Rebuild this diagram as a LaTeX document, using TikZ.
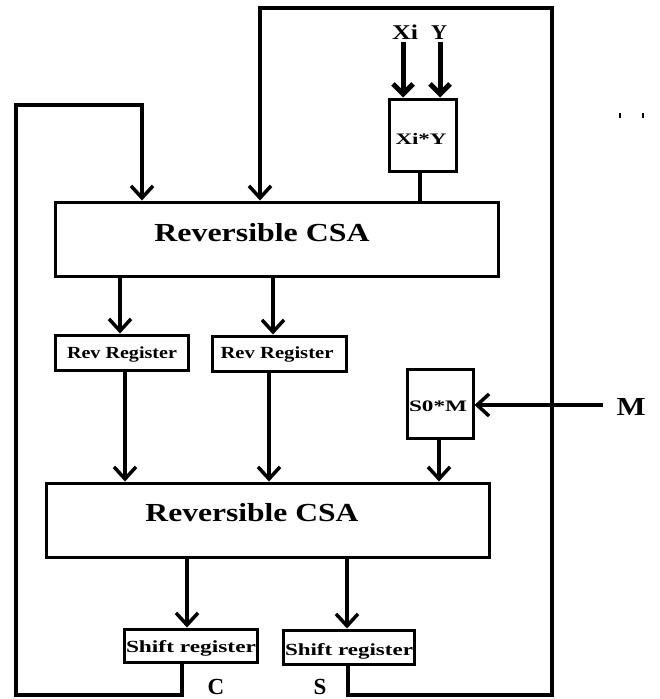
\documentclass[tikz,border=0pt]{standalone}
\usepackage{fontspec}
\setmainfont{Liberation Serif}
\usepackage{graphicx}
\usetikzlibrary{arrows.meta}
\newcommand{\fw}[2]{\resizebox{#1}{\height}{#2}}
\tikzset{
  box/.style={draw, line width=3pt, inner sep=0pt, rectangle},
  wire/.style={line width=3.5pt, line join=miter},
  arr/.style={wire, -{Straight Barb[length=12pt,width=22pt]}},
  thickarr/.style={line width=5pt, -{Straight Barb[length=10pt,width=20pt]}},
  txt/.style={inner sep=0pt},
  big/.style={font=\bfseries\fontsize{26}{26}\selectfont},
  lab/.style={font=\bfseries\fontsize{23}{23}\selectfont},
  mid/.style={font=\bfseries\fontsize{21}{21}\selectfont},
  small/.style={font=\bfseries\fontsize{17}{17}\selectfont},
  tiny/.style={font=\bfseries\fontsize{16}{16}\selectfont},
}
\begin{document}
\begin{tikzpicture}[x=1pt,y=-1pt]
\useasboundingbox (0,0) rectangle (659,699);
% boxes
\node[box, minimum width=443pt, minimum height=74pt] (csa1) at (276.5,239) {};
\node[box, minimum width=443pt, minimum height=74pt] (csa2) at (267.5,520) {};
\node[box, minimum width=133pt, minimum height=35pt] (rr1) at (121.5,352.5) {};
\node[box, minimum width=134pt, minimum height=35pt] (rr2) at (279,353.5) {};
\node[box, minimum width=67pt, minimum height=72pt] (xy) at (422.5,135) {};
\node[box, minimum width=66pt, minimum height=69pt] (s0m) at (440,403.5) {};
\node[box, minimum width=133pt, minimum height=33pt] (sh1) at (190.5,645.5) {};
\node[box, minimum width=131pt, minimum height=34pt] (sh2) at (348.5,647) {};
% texts
\node[txt, big, anchor=base] (t1) at (262,241) {\fw{215pt}{Reversible CSA}};
\node[txt, big, anchor=base] (t2) at (252,521) {\fw{213pt}{Reversible CSA}};
\node[txt, small, anchor=base] (trr1) at (122,358) {\fw{110pt}{Rev Register}};
\node[txt, small, anchor=base] (trr2) at (277,358) {\fw{113pt}{Rev Register}};
\node[txt, small, anchor=base] (tsh1) at (191,652) {\fw{130pt}{Shift register}};
\node[txt, small, anchor=base] (tsh2) at (349,655) {\fw{128pt}{Shift register}};
\node[txt, tiny, anchor=base] (txy) at (421,144) {\fw{51pt}{Xi*Y}};
\node[txt, tiny, anchor=base] (ts0m) at (438,411) {\fw{58pt}{S0*M}};
\node[txt, mid, anchor=base] (lxi) at (405,39) {\fw{26pt}{Xi}};
\node[txt, mid, anchor=base] (ly) at (439,39) {\fw{16pt}{Y}};
\node[txt, big, anchor=base] (lm) at (631,415) {\fw{29pt}{M}};
\node[txt, lab, anchor=base] (lc) at (216,694) {C};
\node[txt, lab, anchor=base] (ls) at (320,694) {S};
% coordinates
\coordinate (xi0) at (403,42);
\coordinate (y0) at (440,42);
\coordinate (m0) at (603,405);
\coordinate (lt) at (142,105);
\coordinate (ll) at (16,105);
\coordinate (lb) at (16,695);
\coordinate (cb) at (182,695);
\coordinate (tt) at (260,8);
\coordinate (tr) at (552,8);
\coordinate (br) at (552,695);
\coordinate (sb) at (348,695);
% inputs
\draw[thickarr] (xi0) -- (xi0 |- xy.north);
\draw[thickarr] (y0) -- (y0 |- xy.north);
\draw[wire] (xy.south -| 420,0) -- (csa1.north -| 420,0);
\draw[arr] (m0) -- (s0m.east |- m0);
% feedback loops
\draw[arr] (sh1.south -| cb) -- (cb) -- (lb) -- (ll) -- (lt) -- (lt |- csa1.north);
\draw[arr] (sh2.south -| sb) -- (sb) -- (br) -- (tr) -- (tt) -- (tt |- csa1.north);
% inner arrows
\draw[arr] (csa1.south -| 120,0) -- (rr1.north -| 120,0);
\draw[arr] (csa1.south -| 273,0) -- (rr2.north -| 273,0);
\draw[arr] (rr1.south -| 125,0) -- (csa2.north -| 125,0);
\draw[arr] (rr2.south -| 269,0) -- (csa2.north -| 269,0);
\draw[arr] (s0m.south -| 439,0) -- (csa2.north -| 439,0);
\draw[arr] (csa2.south -| 187,0) -- (sh1.north -| 187,0);
\draw[arr] (csa2.south -| 347,0) -- (sh2.north -| 347,0);
% small marks
\coordinate (k1) at (620,113);
\coordinate (k2) at (643,113);
\draw[line width=1.5pt] (k1) -- ++(0,5);
\draw[line width=1.5pt] (k2) -- ++(0,5);
\end{tikzpicture}
\end{document}
